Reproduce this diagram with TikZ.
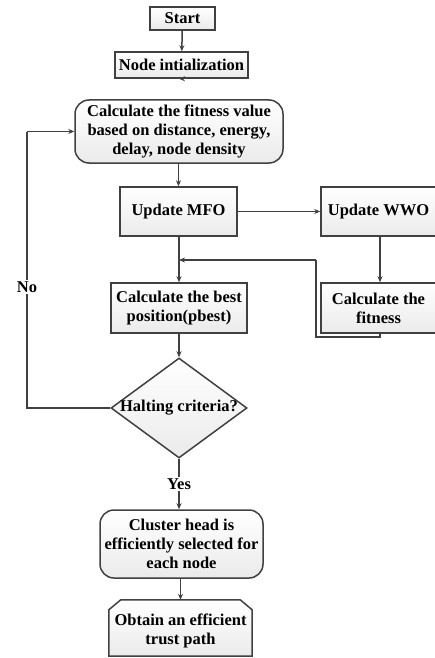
\documentclass[tikz,border=0pt]{standalone}
\usepackage{fontspec}
\setmainfont{Liberation Serif}
\usetikzlibrary{shapes.geometric,arrows.meta}
\definecolor{edge}{HTML}{404040}
\begin{document}
\begin{tikzpicture}[x=1pt,y=-1pt,
  every node/.style={font=\fontsize{16.5}{19}\selectfont\bfseries, align=center, inner sep=0pt},
  shade/.style={draw=edge, line width=1.5pt, top color=white, bottom color=gray!16},
  box/.style={shade, minimum width=#1},
  rbox/.style={box=#1, rounded corners=14pt},
  conn/.style={draw=edge, line width=1.5pt, -{Stealth[length=6pt,width=5pt]}},
  line/.style={draw=edge, line width=1.5pt},
  lab/.style={fill=white, inner sep=2pt}
]
\useasboundingbox (0,0) rectangle (434,658);
\node[box=65pt, minimum height=23pt] (start) at (182.5,18.5) {Start};
\node[box=133pt, minimum height=26pt] (init) at (181.5,65) {Node intialization};
\node[rbox=208pt, minimum height=63pt] (fit) at (179,131.5) {Calculate the fitness value\\based on distance, energy,\\delay, node density};
\node[box=117pt, minimum height=49pt] (mfo) at (178.5,211.5) {Update MFO};
\node[box=115pt, minimum height=49pt] (wwo) at (378.5,211.5) {Update WWO};
\node[box=115pt, minimum height=50pt] (cfit) at (378.5,308) {Calculate the\\fitness};
\node[box=136pt, minimum height=50pt] (pbest) at (179,308) {Calculate the best\\position(pbest)};
\node[diamond, shade, minimum width=136pt, minimum height=100pt, inner sep=0pt] (halt) at (179,408) {};
\node (haltt) at (halt) {Halting criteria?};
\node[rbox=163pt, minimum height=68pt] (ch) at (181.5,544) {Cluster head is\\efficiently selected for\\each node};
\node[minimum width=143pt, minimum height=56pt] (obt) at (180.5,628) {};
\path[shade] (obt.south west) -- ([yshift=-10pt]obt.north west) -- ([xshift=12pt]obt.north west) -- ([xshift=-12pt]obt.north east) -- ([yshift=-10pt]obt.north east) -- (obt.south east) -- cycle;
\node (obtt) at ([yshift=-3pt]obt.center) {Obtain an efficient\\trust path};

\coordinate (j) at (179,260);
\coordinate (c1) at (380,337);
\coordinate (c2) at (316,337);
\coordinate (c3) at (316,260);
\coordinate (n1) at (27,408);
\coordinate (n2) at (27,131.5);

\draw[conn] (start) -- (init);
\draw[conn] (init) -- (fit.south |- init.south) ;
\draw[conn] (fit.south -| mfo.north) -- (mfo.north);
\draw[conn] (mfo) -- (wwo);
\draw[conn] (wwo.south -| 380,0) -- (cfit.north -| 380,0);
\draw[line] (cfit.south -| c1) -- (c1) -- (c2) -- (c3);
\draw[conn] (c3) -- (j);
\draw[conn] (mfo.south -| pbest.north) -- (pbest.north);
\draw[conn] (pbest) -- (halt);
\draw[line] (halt.west) -- (n1) -- (n2);
\draw[conn] (n2) -- (fit.west);
\node[lab] (no) at (27,287) {No};
\draw[conn] (halt.south) -- (ch.north -| halt.south);
\node[lab] (yes) at (179,484) {Yes};
\draw[conn] (ch.south -| obt.north) -- (obt.north);
\end{tikzpicture}
\end{document}
